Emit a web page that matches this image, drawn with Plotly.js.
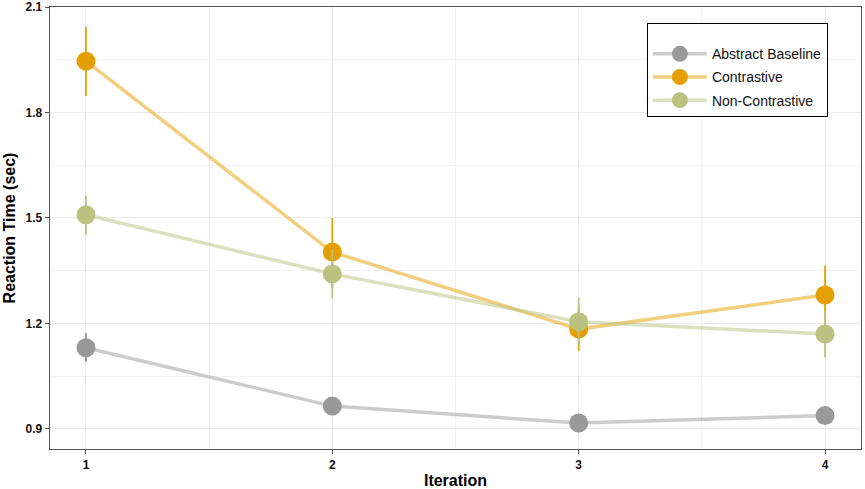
<!DOCTYPE html>
<html>
<head>
<meta charset="utf-8">
<script src="https://cdn.plot.ly/plotly-3.0.1.min.js"></script>
<style>
  html, body { margin: 0; padding: 0; background: #fff; }
  #plot { width: 865px; height: 489px; }
</style>
</head>
<body>
<div id="plot"></div>
<script>
// values
const iterations = [1, 2, 3, 4];
const groups = ['Abstract Baseline', 'Contrastive', 'Non-Contrastive'];

const baselineMean = [1.131, 0.965, 0.917, 0.938];
const baselineHi = [1.173, 0.975, 0.925, 0.948];
const baselineLo = [1.091, 0.955, 0.909, 0.928];

const contrastiveMean = [1.946, 1.403, 1.184, 1.281];
const contrastiveHi = [2.043, 1.500, 1.250, 1.364];
const contrastiveLo = [1.847, 1.301, 1.122, 1.200];

const nonContrastiveMean = [1.509, 1.341, 1.205, 1.170];
const nonContrastiveHi = [1.563, 1.410, 1.273, 1.236];
const nonContrastiveLo = [1.452, 1.270, 1.140, 1.103];

const markerColors = ['#999999', '#E69F00', '#B9C27E'];
const lineColors = ['rgba(153,153,153,0.5)', 'rgba(230,159,0,0.5)', 'rgba(185,194,126,0.5)'];

function makeTrace(i, mean, hi, lo) {
    return {
        x: iterations,
        y: mean,
        name: groups[i],
        legendgroup: 'g' + i,
        type: 'scatter',
        mode: 'lines+markers',
        line: { color: lineColors[i], width: 3.5 },
        marker: { color: markerColors[i], size: 19 },
        error_y: {
            type: 'data',
            symmetric: false,
            array: hi.map((v, k) => v - mean[k]),
            arrayminus: mean.map((v, k) => v - lo[k]),
            color: markerColors[i],
            thickness: 1.8,
            width: 0
        },
        hoverinfo: 'x+y+name'
    };
}

function runPlot() {
    var plotdiv = document.querySelector('#plot');

    var data = [
        makeTrace(0, baselineMean, baselineHi, baselineLo),
        makeTrace(1, contrastiveMean, contrastiveHi, contrastiveLo),
        makeTrace(2, nonContrastiveMean, nonContrastiveHi, nonContrastiveLo),
    ];

    var tickFont = { family: 'Liberation Sans, Arial, sans-serif', size: 12, color: '#111', weight: 'bold' };
    var titleFont = { family: 'Liberation Sans, Arial, sans-serif', size: 16, color: '#000', weight: 'bold' };

    var layout = {
        width: 865,
        height: 489,
        margin: { l: 50, r: 4, t: 7, b: 40 },
        paper_bgcolor: '#fff',
        plot_bgcolor: '#fff',
        showlegend: true,
        xaxis: {
            range: [0.854, 4.146],
            tick0: 1,
            dtick: 1,
            showgrid: true,
            gridcolor: '#EBEBEB',
            gridwidth: 1,
            minor: { dtick: 0.5, showgrid: true, gridcolor: '#F2F2F2', gridwidth: 1 },
            zeroline: false,
            showline: true,
            mirror: true,
            linecolor: '#555',
            linewidth: 1.3,
            ticks: 'outside',
            ticklen: 4,
            tickcolor: '#555',
            tickfont: tickFont,
            title: { text: 'Iteration', font: titleFont, standoff: 8 }
        },
        yaxis: {
            range: [0.843, 2.1],
            tick0: 0.9,
            dtick: 0.3,
            tickformat: '.1f',
            showgrid: true,
            gridcolor: '#EBEBEB',
            gridwidth: 1,
            minor: { tick0: 0.9, dtick: 0.15, showgrid: true, gridcolor: '#F2F2F2', gridwidth: 1 },
            zeroline: false,
            showline: true,
            mirror: true,
            linecolor: '#555',
            linewidth: 1.3,
            ticks: 'outside',
            ticklen: 4,
            tickcolor: '#555',
            tickfont: tickFont,
            title: { text: 'Reaction Time (sec)', font: titleFont, standoff: 6 }
        },
        legend: {
            x: 0.736,
            y: 0.964,
            xanchor: 'left',
            yanchor: 'top',
            bgcolor: '#fff',
            bordercolor: '#000',
            borderwidth: 1,
            font: { family: 'Liberation Sans, Arial, sans-serif', size: 14, color: '#111' },
            title: { text: ' ', font: { size: 11 } },
            traceorder: 'grouped',
            tracegroupgap: 2,
            itemwidth: 54
        }
    };

    var config = { displayModeBar: false, staticPlot: true };

    Plotly.newPlot(plotdiv, data, layout, config);
}

runPlot();
</script>
</body>
</html>
